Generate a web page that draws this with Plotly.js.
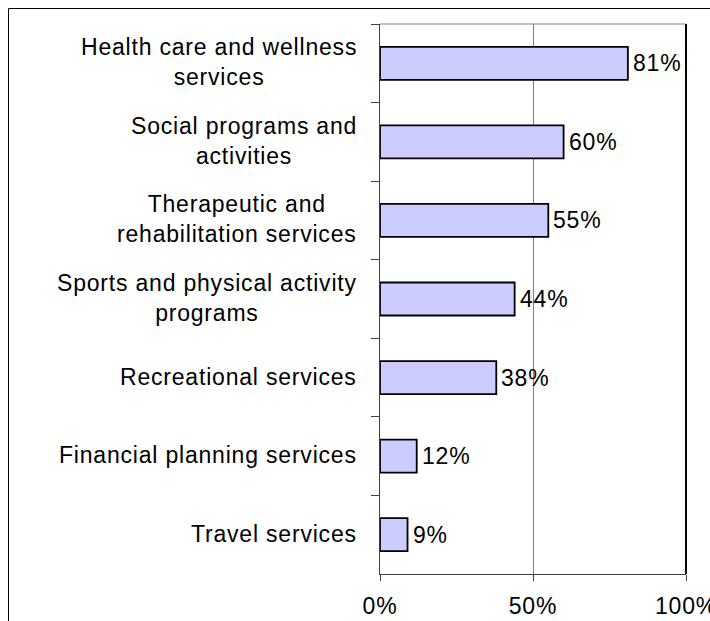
<!DOCTYPE html>
<html>
<head>
<meta charset="utf-8">
<script src="https://cdn.plot.ly/plotly-3.0.1.min.js"></script>
<style>
  html, body { margin:0; padding:0; background:#fff; }
  #chart { width:710px; height:621px; }
  .annotation-text, .xtick text { letter-spacing: 0.8px; }
</style>
</head>
<body>
<div id="chart"></div>
<script>
var categories = [
  "Health care and wellness<br>services",
  "Social programs and<br>activities",
  "Therapeutic and<br>rehabilitation services",
  "Sports and physical activity<br>programs",
  "Recreational services",
  "Financial planning services",
  "Travel services"
];
var values = [81, 60, 55, 44, 38, 12, 9];
var xTickVals = [0, 50, 100];
var xTickText = ["0%", "50%", "100%"];

var FONT = "Liberation Sans, Arial, sans-serif";
var FS = 23;

var trace = {
  type: "bar",
  orientation: "h",
  x: values,
  y: categories,
  marker: { color: "#CCCCFF", line: { color: "#000000", width: 1.8 } },
  hoverinfo: "none",
  cliponaxis: false
};

var annotations = [];
categories.forEach(function (c, i) {
  annotations.push({
    x: 0, xref: "paper", y: c, yref: "y",
    xanchor: "right", yanchor: "middle", xshift: -21, yshift: 1,
    text: c, align: "center", showarrow: false,
    font: { family: FONT, size: FS, color: "#000" }
  });
  annotations.push({
    x: values[i], xref: "x", y: c, yref: "y",
    xanchor: "left", yanchor: "middle", xshift: 3,
    text: values[i] + "%", showarrow: false,
    font: { family: FONT, size: FS, color: "#000" }
  });
});

var layout = {
  width: 710, height: 621,
  margin: { l: 380, r: 24, t: 24, b: 47, pad: 0 },
  paper_bgcolor: "#ffffff",
  plot_bgcolor: "#ffffff",
  showlegend: false,
  bargap: 0.58,
  font: { family: FONT, size: FS, color: "#000" },
  xaxis: {
    range: [0, 100],
    tickmode: "array",
    tickvals: xTickVals,
    ticktext: xTickText,
    showgrid: true, gridcolor: "#808080", gridwidth: 1,
    zeroline: false,
    showline: true, linecolor: "#404040", linewidth: 1,
    ticks: "outside", ticklen: 6, tickcolor: "#404040",
    ticklabelstandoff: 5,
    ticklabeloverflow: "allow",
    tickfont: { family: FONT, size: FS, color: "#000" },
    fixedrange: true
  },
  yaxis: {
    type: "category",
    range: [6.5, -0.5],
    showticklabels: false,
    showgrid: false,
    zeroline: false,
    showline: true, linecolor: "#404040", linewidth: 1,
    ticks: "outside", ticklen: 8, tickcolor: "#404040",
    tickson: "boundaries",
    fixedrange: true
  },
  annotations: annotations,
  shapes: [
    { type: "rect", xref: "paper", yref: "paper",
      x0: (8.5 - 380) / 306, x1: (720 - 380) / 306,
      y0: (574 - 640) / 550, y1: (574 - 8.5) / 550,
      line: { color: "#000", width: 1 }, fillcolor: "rgba(0,0,0,0)", layer: "below" },
    { type: "line", xref: "paper", yref: "paper", x0: 0, x1: 1, y0: 1, y1: 1,
      line: { color: "#808080", width: 1 } },
    { type: "line", xref: "paper", yref: "paper", x0: 1, x1: 1, y0: 0, y1: 1,
      line: { color: "#000", width: 2 } }
  ]
};

Plotly.newPlot("chart", [trace], layout, { staticPlot: true, displayModeBar: false });
</script>
</body>
</html>
